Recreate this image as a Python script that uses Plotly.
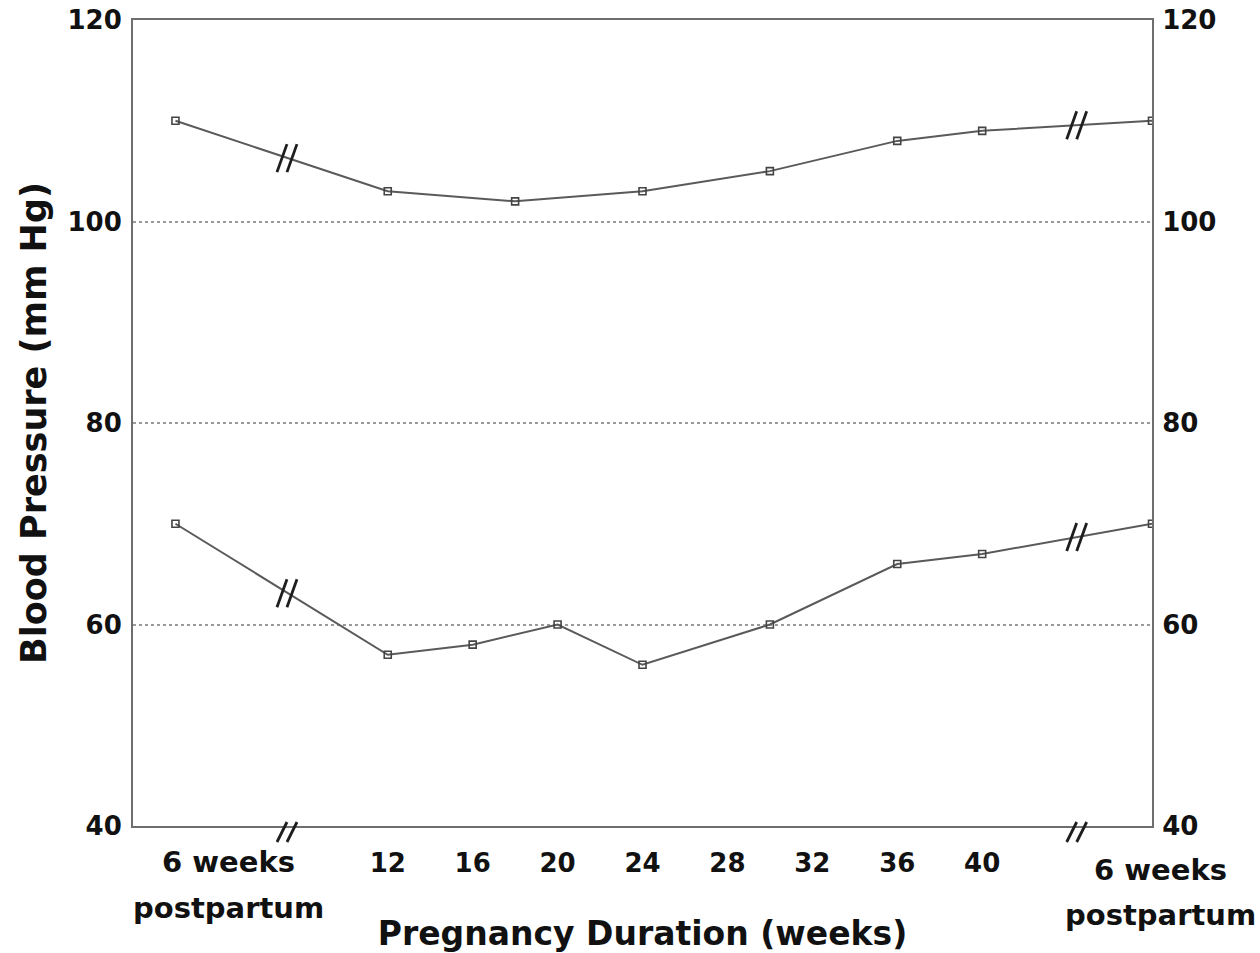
import numpy as np
import plotly.graph_objects as go

# ---- data ----
weeks_upper = [2, 12, 18, 24, 30, 36, 40, 48]
systolic = [110, 103, 102, 103, 105, 108, 109, 110]
weeks_lower = [2, 12, 16, 20, 24, 30, 36, 40, 48]
diastolic = [70, 57, 58, 60, 56, 60, 66, 67, 70]

x_range = [0, 48]
x_tickvals = [12, 16, 20, 24, 28, 32, 36, 40]
x_ticktext = ["12", "16", "20", "24", "28", "32", "36", "40"]
y_ticks = [40, 60, 80, 100, 120]
postpartum_label_x = [4.5, 48.4]
break_x = [7.3, 44.5]

FONT = "DejaVu Sans"
LINE_C = "#5a5a5a"
AX_C = "#6e6e6e"
TXT_C = "#111111"


def to_paper(xv):
    return (xv - x_range[0]) / (x_range[1] - x_range[0])


fig = go.Figure()
for xs, ys in [(weeks_upper, systolic), (weeks_lower, diastolic)]:
    fig.add_trace(go.Scatter(
        x=xs, y=ys, mode="lines+markers",
        line=dict(color=LINE_C, width=2),
        marker=dict(symbol="square-open", size=7, color="#444444", line=dict(width=1.6)),
        showlegend=False, hoverinfo="skip"))
# invisible trace to activate the right-hand axis
fig.add_trace(go.Scatter(x=weeks_upper, y=systolic, yaxis="y2", mode="lines",
                         line=dict(width=0), opacity=0, showlegend=False, hoverinfo="skip"))

# break marks
shapes = []
def add_break(xv, yv, xref="x", yref="y", y0=-14, y1=14):
    for off in (-6, 4):
        shapes.append(dict(type="line", xref=xref, yref=yref,
                           xsizemode="pixel", ysizemode="pixel",
                           xanchor=xv, yanchor=yv,
                           x0=off - 5, x1=off + 5, y0=y0, y1=y1,
                           line=dict(color="#1e1e1e", width=2.8)))
for bx in break_x:
    add_break(bx, float(np.interp(bx, weeks_upper, systolic)))
    add_break(bx, float(np.interp(bx, weeks_lower, diastolic)))
    # on the x axis (paper refs so it is not clipped)
    add_break(to_paper(bx), 0, xref="paper", yref="paper", y0=-16, y1=4)

annotations = []
label_y = {False: [-0.021, -0.078], True: [-0.031, -0.087]}
for px in postpartum_label_x:
    for i, txt in enumerate(["6 weeks", "postpartum"]):
        annotations.append(dict(
            x=to_paper(px), xref="paper", y=label_y[px > 40][i], yref="paper",
            text=txt, showarrow=False, yanchor="top", xanchor="center",
            font=dict(family=FONT, size=29, color=TXT_C, weight="bold")))

fig.update_layout(
    width=1260, height=953,
    margin=dict(l=133, r=108, t=20, b=127, autoexpand=False),
    paper_bgcolor="white", plot_bgcolor="white",
    shapes=shapes, annotations=annotations,
    xaxis=dict(range=x_range, tickvals=x_tickvals, ticktext=x_ticktext,
               showgrid=False, zeroline=False, ticks="", automargin=False,
               showline=True, linecolor=AX_C, linewidth=2, mirror=True,
               tickfont=dict(family=FONT, size=26, color=TXT_C, weight="bold"),
               ticklabelstandoff=13,
               title=dict(text="Pregnancy Duration (weeks)", standoff=48,
                          font=dict(family=FONT, size=33, color=TXT_C, weight="bold"))),
    yaxis=dict(range=[40, 120], tickvals=y_ticks, showgrid=True, automargin=False,
               gridcolor="#9a9a9a", griddash="dot", gridwidth=1.5, zeroline=False,
               showline=True, linecolor=AX_C, linewidth=2, ticks="",
               tickfont=dict(family=FONT, size=26, color=TXT_C, weight="bold"),
               ticklabelstandoff=4,
               title=dict(text="Blood Pressure (mm Hg)", standoff=10,
                          font=dict(family=FONT, size=35, color=TXT_C, weight="bold"))),
    yaxis2=dict(range=[40, 120], tickvals=y_ticks, overlaying="y", side="right",
                showgrid=False, zeroline=False, showline=True, linecolor=AX_C, linewidth=2,
                ticks="", ticklabelstandoff=3, automargin=False,
                tickfont=dict(family=FONT, size=26, color=TXT_C, weight="bold")),
)

fig.write_html("out.html")
